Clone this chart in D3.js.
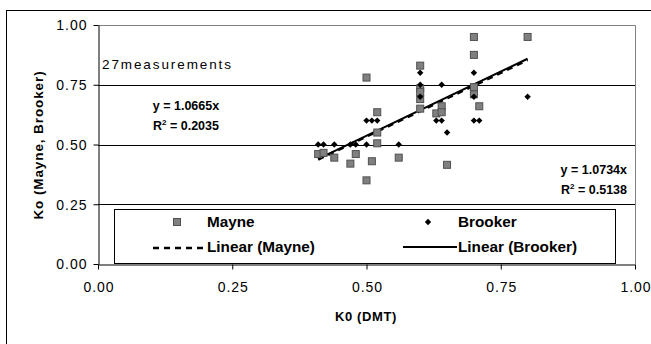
<!DOCTYPE html>
<html><head><meta charset="utf-8">
<script src="https://cdn.jsdelivr.net/npm/d3@7"></script>
<style>
html,body{margin:0;padding:0;background:#fff;}
svg{display:block;font-family:"Liberation Sans",Arial,sans-serif;}
</style></head>
<body>
<svg id="c" width="651" height="344"></svg>
<script>
// ---- data ----
const mayneX = [0.41,0.42,0.44,0.47,0.48,0.50,0.50,0.51,0.52,0.52,0.52,0.56,0.60,0.60,0.60,0.60,0.60,0.63,0.64,0.64,0.65,0.70,0.70,0.70,0.70,0.71,0.80];
const mayneY = [0.46,0.465,0.445,0.42,0.46,0.78,0.35,0.43,0.635,0.55,0.505,0.445,0.83,0.735,0.72,0.69,0.65,0.63,0.66,0.635,0.415,0.95,0.875,0.74,0.71,0.66,0.95];
const brookerX = [0.41,0.42,0.44,0.47,0.48,0.50,0.56,0.50,0.51,0.52,0.63,0.64,0.70,0.71,0.60,0.60,0.60,0.64,0.65,0.70,0.70,0.80];
const brookerY = [0.50,0.50,0.50,0.50,0.50,0.50,0.50,0.60,0.60,0.60,0.60,0.60,0.60,0.60,0.80,0.75,0.70,0.75,0.55,0.80,0.70,0.70];
const mayneSlope = 1.0665, mayneR2 = 0.2035;
const brookerSlope = 1.0734, brookerR2 = 0.5138;
const xTicks = [0,0.25,0.5,0.75,1.0];
const yTicks = [0,0.25,0.5,0.75,1.0];
const xTitle = "K0 (DMT)";
const yTitle = "Ko (Mayne, Brooker)";
const note = "27measurements";
const seriesNames = ["Mayne","Brooker"];

// ---- chart ----
const svg = d3.select("#c");
const x = d3.scaleLinear().domain([0,1]).range([98,635]);
const y = d3.scaleLinear().domain([0,1]).range([264,25]);

// outer frame
svg.append("rect").attr("x",6.5).attr("y",10.5).attr("width",700).attr("height",400)
  .attr("fill","#fff").attr("stroke","#000").attr("stroke-width",1);

// plot area border (gray top & right)
svg.append("path").attr("d",`M${x(0)},${y(1)+0.5}H${x(1)+0.5}V${y(0)}`)
  .attr("fill","none").attr("stroke","#808080").attr("stroke-width",1);

// gridlines
svg.append("g").selectAll("line").data(yTicks.filter(d=>d>0&&d<1)).join("line")
  .attr("x1",x(0)).attr("x2",x(1)).attr("y1",d=>Math.round(y(d))+0.5).attr("y2",d=>Math.round(y(d))+0.5)
  .attr("stroke","#000").attr("stroke-width",1);

// axes
const fmt = d3.format(".2f");
const gx = svg.append("g").attr("transform",`translate(0,${Math.round(y(0))+0.5})`)
  .call(d3.axisBottom(x).tickValues(xTicks).tickFormat(fmt).tickSize(5).tickSizeOuter(0));
const gy = svg.append("g").attr("transform",`translate(${Math.round(x(0))+0.5},0)`)
  .call(d3.axisLeft(y).tickValues(yTicks).tickFormat(fmt).tickSize(5).tickSizeOuter(0));
[gx,gy].forEach(g=>{
  g.select(".domain").attr("stroke","#000");
  g.selectAll(".tick line").attr("stroke","#000");
  g.selectAll("text").attr("fill","#000").style("font-size","14px")
   .style("font-family","'Liberation Sans',Arial,sans-serif").style("letter-spacing","1px");
});
gx.selectAll("text").attr("y",18).attr("dy","0.71em").attr("dx","0.5px");
gy.selectAll("text").attr("x",-11).attr("dy","0.35em");

// axis titles
svg.append("text").attr("x",366).attr("y",321).attr("text-anchor","middle")
  .style("font-weight","bold").style("font-size","13px").style("letter-spacing","0.6px").text(xTitle);
svg.append("text").attr("transform",`translate(43,145) rotate(-90)`).attr("text-anchor","middle")
  .style("font-weight","bold").style("font-size","13.5px").style("letter-spacing","0.9px").text(yTitle);

// note
svg.append("text").attr("x",102).attr("y",69).style("font-size","13.5px").style("letter-spacing","1.9px").text(note);

// trend lines
const bx = d3.extent(brookerX), mx = d3.extent(mayneX);
const line = d3.line().x(d=>x(d[0])).y(d=>y(d[1]));
svg.append("path").attr("d",line(bx.map(v=>[v,v*brookerSlope])))
  .attr("stroke","#000").attr("stroke-width",2).attr("fill","none");
svg.append("path").attr("d",line(mx.map(v=>[v,v*mayneSlope])))
  .attr("stroke","#000").attr("stroke-width",2.6).attr("stroke-dasharray","6,5").attr("fill","none");

// markers
const sq = 7;
svg.append("g").selectAll("rect").data(mayneX.map((v,i)=>[v,mayneY[i]])).join("rect")
  .attr("x",d=>x(d[0])-sq/2).attr("y",d=>y(d[1])-sq/2).attr("width",sq).attr("height",sq)
  .attr("fill","#808080").attr("stroke","#505050").attr("stroke-width",1);
const diamond = d3.symbol().type(d3.symbolDiamond2).size(26);
svg.append("g").selectAll("path").data(brookerX.map((v,i)=>[v,brookerY[i]])).join("path")
  .attr("d",diamond).attr("transform",d=>`translate(${x(d[0])},${y(d[1])})`).attr("fill","#000");

// equations
function eq(xp,yp,anchor,slope,r2){
  svg.append("text").attr("x",xp).attr("y",yp).attr("text-anchor",anchor)
    .style("font-weight","bold").style("font-size","12.5px").text(`y = ${slope.toFixed(4)}x`);
  const t = svg.append("text").attr("x",xp).attr("y",yp+19.5).attr("text-anchor",anchor)
    .style("font-weight","bold").style("font-size","12.5px");
  t.append("tspan").text("R");
  t.append("tspan").attr("dy",-5).style("font-size","8px").text("2");
  t.append("tspan").attr("dy",5).text(` = ${r2.toFixed(4)}`);
}
eq(186,110,"middle",mayneSlope,mayneR2);
eq(627,174,"end",brookerSlope,brookerR2);

// legend
const lg = svg.append("g");
lg.append("rect").attr("x",114.5).attr("y",209.5).attr("width",501).attr("height",54)
  .attr("fill","#fff").attr("stroke","#000").attr("stroke-width",1);
lg.append("rect").attr("x",177-sq/2).attr("y",222-sq/2).attr("width",sq).attr("height",sq)
  .attr("fill","#808080").attr("stroke","#505050");
lg.append("path").attr("d",diamond).attr("transform","translate(428,222)").attr("fill","#000");
lg.append("line").attr("x1",153).attr("x2",204).attr("y1",248).attr("y2",248)
  .attr("stroke","#000").attr("stroke-width",2.6).attr("stroke-dasharray","6,5");
lg.append("line").attr("x1",403).attr("x2",457).attr("y1",247).attr("y2",247)
  .attr("stroke","#000").attr("stroke-width",2);
const legTexts = [[207,227,seriesNames[0]],[207,252,`Linear (${seriesNames[0]})`],[458,227,seriesNames[1]],[458,252,`Linear (${seriesNames[1]})`]];
lg.selectAll("text.l").data(legTexts).join("text").attr("class","l")
  .attr("x",d=>d[0]).attr("y",d=>d[1]).style("font-weight","bold").style("font-size","15.3px").text(d=>d[2]);
</script>
</body></html>
